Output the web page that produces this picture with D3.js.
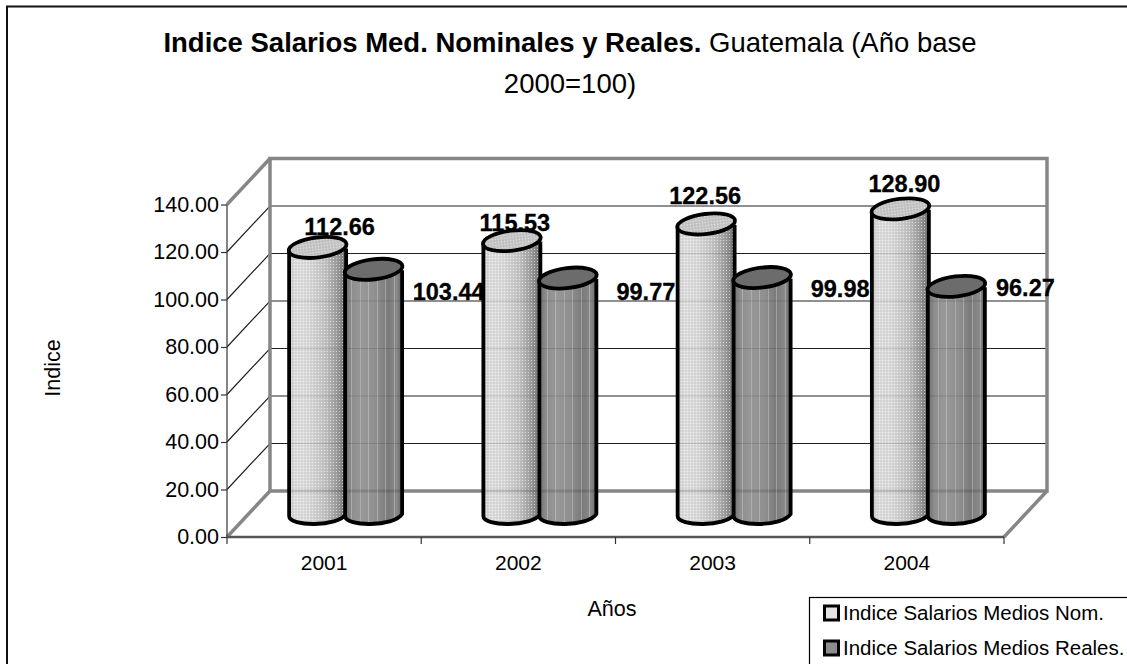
<!DOCTYPE html>
<html><head><meta charset="utf-8">
<style>html,body{margin:0;padding:0;background:#fff}svg{display:block}text{font-family:"Liberation Sans",Arial,sans-serif;fill:#000}</style>
<script src="https://cdn.jsdelivr.net/npm/d3@7/dist/d3.min.js"></script></head><body>
<svg id="c" width="1127" height="664"></svg>
<script>
const years=["2001","2002","2003","2004"];
const nominal=[112.66,115.53,122.56,128.90];
const real=[103.44,99.77,99.98,96.27];
const yTicks=[0,20,40,60,80,100,120,140];
const seriesNames=["Indice Salarios Medios Nom.","Indice Salarios Medios Reales."];
// label placement: [centre-x shift from cylinder, baseline y shift from cylinder top]
const labelShift={nominal:[[22,-13],[3,-11],[-1,-21],[4,-18]],real:[[75,30],[78,21],[78,18],[69,9]]};

const svg=d3.select("#c");
const W=1127,H=664,x0=227,x1=1004,yB=537,yT=204.5,dx=43,dy=-46;
const x=d3.scaleBand().domain(years).range([x0,x1]);
const y=d3.scaleLinear().domain([0,140]).range([yB,yT]);
const cylW=57,rY=11;

const defs=svg.append("defs");
function grad(id,stops){const g=defs.append("linearGradient").attr("id",id).attr("x1",0).attr("x2",1).attr("y1",0).attr("y2",0);
 stops.forEach(s=>g.append("stop").attr("offset",s[0]).attr("stop-color",s[1]));}
grad("gN",[[0,"#cccccc"],[.12,"#dedede"],[.35,"#dadada"],[.65,"#c0c0c0"],[.85,"#989898"],[1,"#6c6c6c"]]);
grad("gR",[[0,"#6e6e6e"],[.12,"#8e8e8e"],[.3,"#989898"],[.55,"#8f8f8f"],[.75,"#7a7a7a"],[.9,"#8a8a8a"],[1,"#666"]]);
const pat=defs.append("pattern").attr("id","dots").attr("width",3).attr("height",3).attr("patternUnits","userSpaceOnUse");
pat.append("rect").attr("width",1).attr("height",1).attr("fill","#fff").attr("opacity",.55);
pat.append("rect").attr("x",1.5).attr("y",1.5).attr("width",1).attr("height",1).attr("fill","#888").attr("opacity",.4);
const st=defs.append("pattern").attr("id","streak").attr("width",17).attr("height",4).attr("patternUnits","userSpaceOnUse");
st.append("rect").attr("x",3).attr("width",1).attr("height",4).attr("fill","#bbb").attr("opacity",.6);
st.append("rect").attr("x",11).attr("width",1).attr("height",4).attr("fill","#ccc").attr("opacity",.5);

// frame
svg.append("rect").attr("x",7).attr("y",6.5).attr("width",W+10).attr("height",H+10).attr("fill","#fff").attr("stroke","#111").attr("stroke-width",2);

// title
const t=svg.append("text").attr("text-anchor","middle").attr("font-size",27.5);
const l1=t.append("tspan").attr("x",570).attr("y",52);
l1.append("tspan").attr("font-weight","bold").text("Indice Salarios Med. Nominales y Reales.");
l1.append("tspan").text(" Guatemala (Año base");
t.append("tspan").attr("x",570).attr("y",93).text("2000=100)");

const wall="#868686";
// gridlines
const gridG=svg.append("g");
yTicks.slice(1,-1).forEach(v=>{
 gridG.append("polyline").attr("fill","none").attr("stroke","#222").attr("stroke-width",1.2)
  .attr("points",[[x0,y(v)],[x0+dx,y(v)+dy],[x1+dx,y(v)+dy]].join(" "));
});
// walls
svg.append("rect").attr("x",x0+dx).attr("y",y(140)+dy).attr("width",x1-x0).attr("height",y(0)-y(140))
 .attr("fill","none").attr("stroke",wall).attr("stroke-width",3.5);
svg.append("line").attr("x1",x0).attr("y1",y(140)).attr("x2",x0+dx).attr("y2",y(140)+dy).attr("stroke",wall).attr("stroke-width",3.5);
svg.append("line").attr("x1",x0).attr("y1",y(0)).attr("x2",x0+dx).attr("y2",y(0)+dy).attr("stroke",wall).attr("stroke-width",3.5);
svg.append("line").attr("x1",x1).attr("y1",y(0)).attr("x2",x1+dx).attr("y2",y(0)+dy).attr("stroke",wall).attr("stroke-width",3.5);

// axes
const ay=d3.axisLeft(y).tickValues(yTicks).tickFormat(d3.format(".2f")).tickSize(6).tickPadding(2);
const gy=svg.append("g").attr("transform",`translate(${x0},0)`).call(ay);
gy.selectAll("text").attr("font-size",21.5);
gy.selectAll("line,path").attr("stroke","#333").attr("stroke-width",1.2);
gy.select("path").attr("d",`M0,${yT}V${yB}`);
const ax=d3.axisBottom(x).tickSize(0).tickPadding(18);
const gx=svg.append("g").attr("transform",`translate(0,${yB})`).call(ax);
gx.selectAll("text").attr("font-size",21).attr("dy","0.7em");
gx.select("path").attr("d",`M${x0},0H${x1}`).attr("stroke","#555").attr("stroke-width",2.5);
[...years.map(d=>x(d)),x1].forEach(px=>gx.append("line").attr("x1",px).attr("x2",px).attr("y1",0).attr("y2",7).attr("stroke","#333").attr("stroke-width",1.2));

// cylinders
const base=y(0)+dy/2+2;
function cyl(cx,v,fill,top,dotted){
 const h=v*(yB-yT)/140, yt=base-h, g=svg.append("g"), a=cylW/2;
 const p=`M${cx-a},${yt}V${base}C${cx-a},${base+11} ${cx+a-8},${base+11} ${cx+a},${base-2}V${yt}`;
 g.append("path").attr("d",p+"Z").attr("fill",`url(#${fill})`);
 if(dotted) g.append("path").attr("d",p+"Z").attr("fill","url(#dots)");
 else g.append("path").attr("d",p+"Z").attr("fill","url(#streak)");
 g.append("path").attr("d",p).attr("fill","none").attr("stroke","#000").attr("stroke-width",3.8);
 g.append("ellipse").attr("cx",cx).attr("cy",yt-1).attr("rx",a+.5).attr("ry",rY-1)
  .attr("transform",`rotate(-7 ${cx} ${yt-1})`).attr("fill",top).attr("stroke","#000").attr("stroke-width",3.8);
 if(dotted) g.append("ellipse").attr("cx",cx).attr("cy",yt-1).attr("rx",a-1).attr("ry",rY-3)
  .attr("transform",`rotate(-7 ${cx} ${yt-1})`).attr("fill","url(#dots)");
}
const centers=years.map(d=>x(d)+x.bandwidth()/2+dx/2);
years.forEach((d,i)=>{
 cyl(centers[i]-28,nominal[i],"gN","#c6c6c6",true);
 cyl(centers[i]+28,real[i],"gR","#6c6c6c",false);
});
// faint grid and floor seen through the cylinders
const over=svg.append("g").attr("opacity",.13);
yTicks.slice(0,-1).forEach(v=>{
 years.forEach((d,i)=>{
  const top=Math.min(base-nominal[i]*(yB-yT)/140,base-real[i]*(yB-yT)/140);
  if(y(v)+dy>top+12) over.append("line").attr("x1",centers[i]-55).attr("x2",centers[i]+55).attr("y1",y(v)+dy).attr("y2",y(v)+dy).attr("stroke","#000").attr("stroke-width",v?1.2:3);
 });
});

// data labels
const lab=svg.append("g");
const scaleH=(yB-yT)/140;
years.forEach((d,i)=>{
 [[nominal[i],centers[i]-28,labelShift.nominal[i]],[real[i],centers[i]+28,labelShift.real[i]]].forEach(r=>{
  lab.append("text").attr("text-anchor","middle").attr("font-size",23.5).attr("font-weight","bold")
   .attr("stroke","#000").attr("stroke-width",.3)
   .attr("x",r[1]+r[2][0]).attr("y",base-r[0]*scaleH+r[2][1]).text(r[0].toFixed(2));
 });
});

// axis titles
svg.append("text").attr("text-anchor","middle").attr("font-size",21.5).attr("transform","translate(60,368) rotate(-90)").text("Indice");
svg.append("text").attr("text-anchor","middle").attr("font-size",21.5).attr("x",612).attr("y",616).text("Años");

// legend
const lg=svg.append("g");
lg.append("rect").attr("x",809.5).attr("y",597.5).attr("width",330).attr("height",80).attr("fill","#fff").attr("stroke","#000").attr("stroke-width",1.2);
seriesNames.forEach((n,i)=>{
 const yy=606+i*35;
 lg.append("rect").attr("x",824.5).attr("y",yy).attr("width",14).attr("height",14).attr("fill",i?"#8c8c8c":"#e4e4e4").attr("stroke","#000").attr("stroke-width",3);
 lg.append("text").attr("x",843).attr("y",yy+13.5).attr("font-size",20.5).text(n);
});
</script></body></html>
